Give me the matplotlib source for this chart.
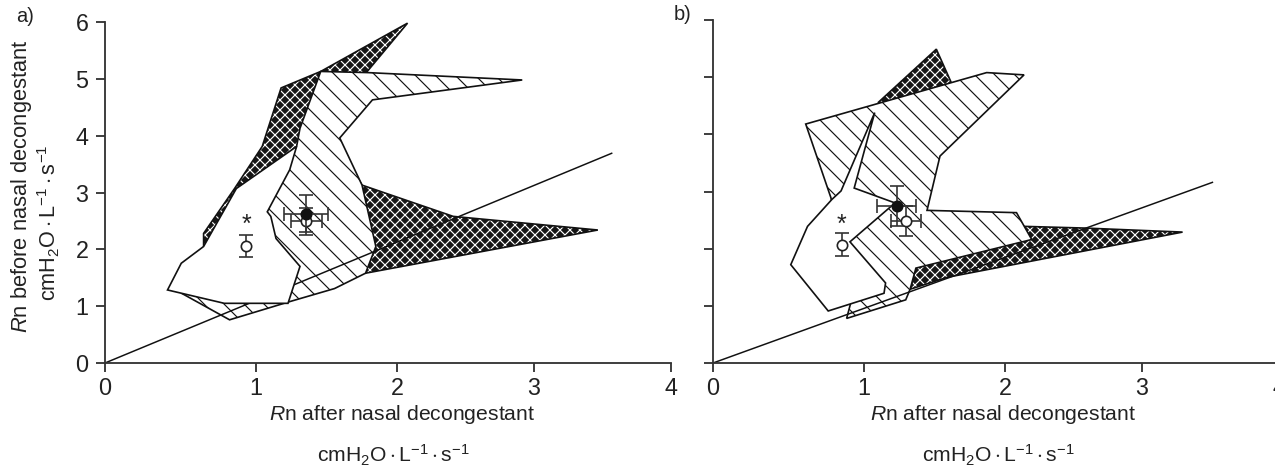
import numpy as np
import matplotlib
matplotlib.use('Agg')
import matplotlib.pyplot as plt
from matplotlib.patches import Polygon

plt.rcParams['font.family'] = ['Liberation Sans', 'DejaVu Sans']
plt.rcParams['mathtext.fontset'] = 'custom'
plt.rcParams['mathtext.rm'] = 'Liberation Sans'
plt.rcParams['mathtext.it'] = 'Liberation Sans:italic'
plt.rcParams['mathtext.bf'] = 'Liberation Sans:bold'
plt.rcParams['hatch.linewidth'] = 0.7

# ---------------- data (Rn after, Rn before) ----------------
# panel a
A_DARK_X = [0.653, 0.653, 0.858, 1.044, 1.178, 1.459, 2.077, 1.789, 1.532, 1.752, 2.41, 3.466, 1.777, 1.41, 0.927]
A_DARK_Y = [2.05, 2.28, 3.07, 3.81, 4.84, 5.13, 5.98, 5.13, 4.04, 3.13, 2.58, 2.34, 1.58, 2.87, 2.58]
A_HATCH_X = [1.459, 1.789, 2.914, 1.826, 1.594, 1.752, 1.85, 1.777, 1.557, 1.239, 0.825, 0.505, 0.927, 1.288, 1.312]
A_HATCH_Y = [5.13, 5.11, 4.98, 4.63, 3.96, 3.13, 2.05, 1.58, 1.31, 1.08, 0.76, 1.23, 2.28, 3.81, 4.13]
A_WHITE_X = [0.414, 0.505, 0.653, 0.87, 1.288, 1.239, 1.08, 1.105, 1.142, 1.312, 1.227, 0.79]
A_WHITE_Y = [1.285, 1.755, 2.05, 3.07, 3.81, 3.40, 2.66, 2.58, 2.19, 1.70, 1.05, 1.05]
A_LINE_X = [0.0, 3.567]
A_LINE_Y = [0.0, 3.69]
A_FILLED = dict(x=1.355, y=2.63, xerr=0.155, yerr=0.33)
A_OPEN = dict(x=1.355, y=2.49, xerr=0.11, yerr=0.24)
A_OPEN_STAR = dict(x=0.934, y=2.06, yerr=0.2, star_y=2.43)

# panel b
B_DARK_X = [1.102, 1.513, 1.618, 1.46, 1.354, 2.139, 2.588, 3.296, 1.592, 1.327, 1.368]
B_DARK_Y = [4.56, 5.49, 4.91, 3.74, 2.60, 2.39, 2.36, 2.29, 1.50, 1.29, 1.66]
B_HATCH_X = [0.614, 1.87, 2.139, 1.539, 1.447, 2.084, 2.195, 1.368, 1.327, 1.296, 0.885, 0.91, 0.781]
B_HATCH_Y = [4.18, 5.08, 5.04, 3.62, 2.67, 2.63, 2.16, 1.66, 1.29, 1.105, 0.78, 1.03, 2.89]
B_WHITE_X = [0.515, 0.626, 0.787, 0.848, 1.076, 0.935, 1.220, 0.907, 1.153, 1.142, 0.763]
B_WHITE_Y = [1.72, 2.39, 2.86, 3.01, 4.38, 3.06, 2.80, 2.12, 1.40, 1.22, 0.91]
B_LINE_X = [0.0, 3.514]
B_LINE_Y = [0.0, 3.16]
B_FILLED = dict(x=1.232, y=2.74, xerr=0.14, yerr=0.35)
B_OPEN = dict(x=1.298, y=2.48, xerr=0.105, yerr=0.26)
B_OPEN_STAR = dict(x=0.852, y=2.07, yerr=0.2, star_y=2.42)

X_TICKS = [0, 1, 2, 3, 4]
Y_TICKS = [0, 1, 2, 3, 4, 5, 6]

XLABEL_1 = r'$\mathit{R}$n after nasal decongestant'
YLABEL_1 = r'$\mathit{R}$n before nasal decongestant'
UNITS = r'$\mathrm{cmH_2O\cdot L^{-1}\cdot s^{-1}}$'

# ---------------- x-axis scale of the original (slightly non-uniform) ----------------
_SD = np.array([0.0, 1.0, 2.0, 3.0, 4.0])
_SP = np.array([0.0, 151.0, 292.0, 429.0, 566.0])


def _fwd(x):
    x = np.asarray(x, dtype=float)
    y = np.interp(x, _SD, _SP)
    y = np.where(x < 0, x * 151.0, y)
    y = np.where(x > 4, 566.0 + (x - 4) * 137.0, y)
    return y


def _inv(p):
    p = np.asarray(p, dtype=float)
    x = np.interp(p, _SP, _SD)
    x = np.where(p < 0, p / 151.0, x)
    x = np.where(p > 566, 4 + (p - 566.0) / 137.0, x)
    return x


W, H = 1275, 472
DPI = 120
fig = plt.figure(figsize=(W / DPI, H / DPI), dpi=DPI)
fig.patch.set_facecolor('white')

ax_a = fig.add_axes([105 / W, (H - 363) / H, 566 / W, 341 / H])
ax_b = fig.add_axes([713 / W, (H - 363) / H, 566 / W, 343 / H])

AXCOL = '#333333'


def draw_panel(ax, dx, dy, hx, hy, wx, wy, lx, ly, filled, opn, star, ylabels):
    ax.set_xscale('function', functions=(_fwd, _inv))
    ax.set_xlim(0, 4)
    ax.set_ylim(0, 6)
    # dark basket-weave region
    ax.add_patch(Polygon(np.column_stack([dx, dy]), closed=True, facecolor='#151515',
                         edgecolor='white', hatch='xxxx', linewidth=0, zorder=1))
    ax.add_patch(Polygon(np.column_stack([dx, dy]), closed=True, fill=False,
                         edgecolor='#111111', linewidth=1.0, zorder=1.1))
    # diagonal hatched region
    ax.add_patch(Polygon(np.column_stack([hx, hy]), closed=True, facecolor='white',
                         edgecolor='#111111', hatch='\\\\', linewidth=1.0, zorder=2))
    # reference line
    ax.plot(lx, ly, color='#111111', lw=0.9, zorder=2.5)
    # white region
    ax.add_patch(Polygon(np.column_stack([wx, wy]), closed=True, facecolor='white',
                         edgecolor='#111111', linewidth=1.0, zorder=3))
    # markers
    ax.errorbar([opn['x']], [opn['y']], xerr=[opn['xerr']], yerr=[opn['yerr']], fmt='o',
                mfc='white', mec='#222222', mew=1.0, ms=6.2, ecolor='#333333', elinewidth=1.0,
                capsize=4, capthick=1.0, zorder=4)
    ax.errorbar([filled['x']], [filled['y']], xerr=[filled['xerr']], yerr=[filled['yerr']], fmt='o',
                mfc='#111111', mec='#111111', ms=6.2, ecolor='#333333', elinewidth=1.0,
                capsize=4, capthick=1.0, zorder=5)
    ax.errorbar([star['x']], [star['y']], yerr=[star['yerr']], fmt='o',
                mfc='white', mec='#222222', mew=1.0, ms=6.2, ecolor='#333333', elinewidth=1.0,
                capsize=4, capthick=1.0, zorder=4)
    ax.text(star['x'], star['star_y'], '*', ha='center', va='center', fontsize=15,
            color='#222222', zorder=5)

    for s in ['top', 'right']:
        ax.spines[s].set_visible(False)
    for s in ['left', 'bottom']:
        ax.spines[s].set_color(AXCOL)
        ax.spines[s].set_linewidth(1.1)
    ax.set_xticks(X_TICKS)
    ax.set_xticklabels([str(t) for t in X_TICKS])
    ax.set_yticks(Y_TICKS)
    if ylabels:
        ax.set_yticklabels([str(t) for t in Y_TICKS])
    else:
        ax.set_yticklabels([])
    ax.tick_params(direction='out', length=5.4, width=1.1, color=AXCOL,
                   labelsize=14, labelcolor='#222222')
    ax.tick_params(axis='x', pad=3.0)
    ax.tick_params(axis='y', pad=4.5)
    ax.set_facecolor('none')


draw_panel(ax_a, A_DARK_X, A_DARK_Y, A_HATCH_X, A_HATCH_Y, A_WHITE_X, A_WHITE_Y,
           A_LINE_X, A_LINE_Y, A_FILLED, A_OPEN, A_OPEN_STAR, True)
draw_panel(ax_b, B_DARK_X, B_DARK_Y, B_HATCH_X, B_HATCH_Y, B_WHITE_X, B_WHITE_Y,
           B_LINE_X, B_LINE_Y, B_FILLED, B_OPEN, B_OPEN_STAR, False)

TXT = '#222222'
fig.text(25 / W, 1 - 17 / H, 'a)', ha='center', va='center', fontsize=12, color=TXT)
fig.text(683 / W, 1 - 15 / H, 'b)', ha='center', va='center', fontsize=12, color=TXT)

fig.text(22 / W, 1 - 186 / H, YLABEL_1, rotation=90, ha='center', va='center', fontsize=13.1, color=TXT)
fig.text(49 / W, 1 - 223 / H, UNITS, rotation=90, ha='center', va='center', fontsize=13, color=TXT)

fig.text(402 / W, 1 - 415 / H, XLABEL_1, ha='center', va='center', fontsize=12.7, color=TXT)
fig.text(393 / W, 1 - 455 / H, UNITS, ha='center', va='center', fontsize=12.7, color=TXT)
fig.text(1003 / W, 1 - 415 / H, XLABEL_1, ha='center', va='center', fontsize=12.7, color=TXT)
fig.text(998 / W, 1 - 455 / H, UNITS, ha='center', va='center', fontsize=12.7, color=TXT)

fig.savefig('out.png', dpi=DPI)
